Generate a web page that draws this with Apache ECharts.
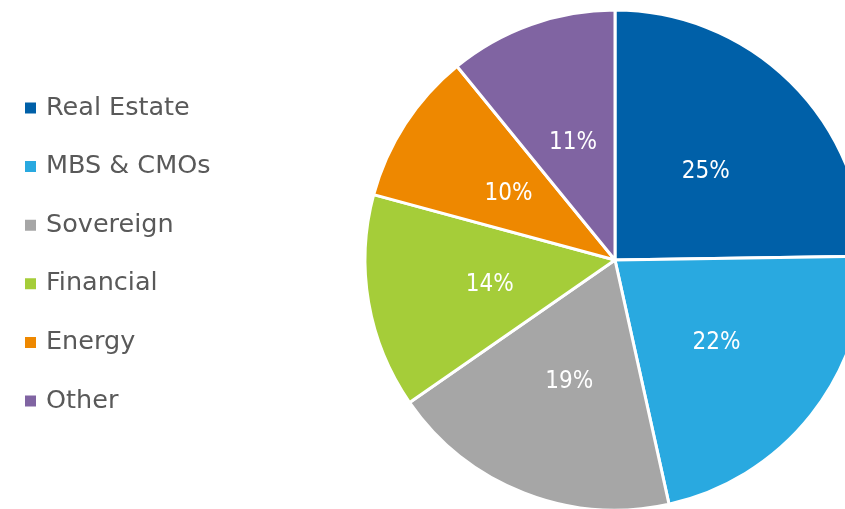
<!DOCTYPE html>
<html><head><meta charset="utf-8">
<script src="https://cdn.jsdelivr.net/npm/echarts@6/dist/echarts.min.js"></script>
<style>html,body{margin:0;padding:0;background:#fff}#c{width:845px;height:509px}</style>
</head><body><div id="c"></div>
<script>
const categories = ["Real Estate", "MBS & CMOs", "Sovereign", "Financial", "Energy", "Other"];
const values = [25, 22, 19, 14, 10, 11];
const colors = ["#0060A8", "#29A9E0", "#A6A6A6", "#A5CD39", "#EE8800", "#8064A2"];

const chart = echarts.init(document.getElementById('c'), null, {renderer: 'canvas'});
chart.setOption({
  animation: false,
  color: colors,
  legend: {
    orient: 'vertical',
    left: 23,
    top: 93,
    padding: 0,
    icon: 'rect',
    itemWidth: 13,
    itemHeight: 13,
    itemGap: 28.6,
    data: categories,
    textStyle: {fontFamily: 'DejaVu Sans', fontSize: 25.5, color: '#595959', lineHeight: 30, padding: [0,0,0,4]}
  },
  series: [{
    type: 'pie',
    center: [615, 260],
    radius: 250,
    startAngle: 90,
    clockwise: true,
    itemStyle: {borderColor: '#fff', borderWidth: 3},
    label: {
      position: 'inside',
      color: '#fff',
      fontFamily: '"DejaVu Sans Condensed", sans-serif',
      fontSize: 24,
      offset: [1, 3],
      formatter: p => p.value + '%'
    },
    labelLine: {show: false},
    emphasis: {disabled: true},
    data: categories.map((c, i) => ({name: c, value: values[i]}))
  }]
});
</script></body></html>
